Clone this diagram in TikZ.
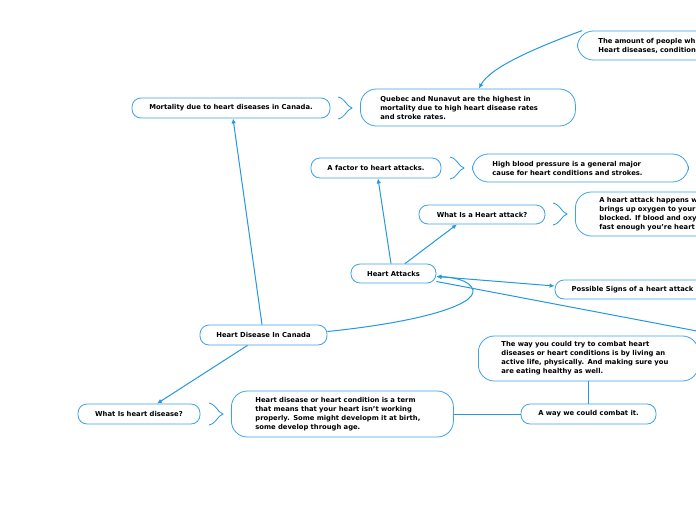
\documentclass[tikz,border=0pt]{standalone}
\usepackage{fontspec}
\setmainfont{DejaVu Sans}
\usetikzlibrary{arrows.meta,calc}
\definecolor{lineblue}{RGB}{36,152,226}
\definecolor{boxblue}{RGB}{62,162,230}
\tikzset{
  box/.style={draw=boxblue, line width=0.8pt, rounded corners=9pt, fill=white,
    font=\fontsize{6.8}{9}\selectfont\bfseries, inner sep=0pt, align=center},
  mbox/.style={box, rounded corners=16pt, align=left, anchor=west, inner ysep=0pt},
  conn/.style={draw=lineblue, line width=1pt},
  arr/.style={conn, -{Latex[length=5pt,width=4.5pt]}},
  darr/.style={conn, {Latex[length=5pt,width=4.5pt]}-{Latex[length=5pt,width=4.5pt]}},
  brk/.style={draw=lineblue, line width=0.8pt}
}
\newcommand{\mybrk}[2]{\draw[brk] (#1,#2-11) .. controls (#1+8,#2-9) and (#1+8,#2-2) .. (#1+14,#2) .. controls (#1+8,#2+2) and (#1+8,#2+9) .. (#1,#2+11);}
\begin{document}
\begin{tikzpicture}[x=1pt,y=-1pt]
\useasboundingbox[fill=white] (0,0) rectangle (696,520);

% top-right clipped box
\node[mbox, inner xsep=21pt, text width=180pt, minimum height=29pt] (amount) at (577,45.5)
  {The amount of people wh\\Heart diseases, condition};

\node[box, minimum width=198pt, minimum height=20pt] (mort) at (231,108) {Mortality due to heart diseases in Canada.};
\node[mbox, inner xsep=20pt, text width=175pt, minimum height=37pt] (quebec) at (360,107.5)
  {Quebec and Nunavut are the highest in\\mortality due to high heart disease rates\\and stroke rates.};

\node[box, minimum width=130pt, minimum height=20pt] (factor) at (376,168) {A factor to heart attacks.};
\node[mbox, inner xsep=20pt, text width=176pt, minimum height=28pt] (hbp) at (472,168)
  {High blood pressure is a general major\\cause for heart conditions and strokes.};

\node[box, minimum width=126pt, minimum height=19pt] (whatha) at (482,214.5) {What Is a Heart attack?};
\node[mbox, inner xsep=24pt, text width=170pt, minimum height=44pt] (hadef) at (575,214)
  {A heart attack happens w\\brings up oxygen to your\\blocked. If blood and oxy\\fast enough you're heart};

\node[box, minimum width=85pt, minimum height=19pt] (ha) at (393.5,273.5) {Heart Attacks};
\node[box, minimum width=155pt, minimum height=19pt] (signs) at (632.5,289.5) {Possible Signs of a heart attack};

\node[box, minimum width=127pt, minimum height=20pt] (hdc) at (263.5,335) {Heart Disease In Canada};

\node[mbox, inner xsep=23pt, text width=174pt, minimum height=45pt] (way) at (478,358.5)
  {The way you could try to combat heart\\diseases or heart conditions is by living an\\active life, physically. And making sure you\\are eating healthy as well.};
\node[box, minimum width=135pt, minimum height=20pt] (combat) at (588.5,414) {A way we could combat it.};

\node[box, minimum width=122pt, minimum height=20pt] (whathd) at (139,414) {What Is heart disease?};
\node[mbox, inner xsep=24pt, text width=174pt, minimum height=46pt] (hddef) at (231,414)
  {Heart disease or heart condition is a term\\that means that your heart isn't working\\properly. Some might developm it at birth,\\some develop through age.};

\coordinate (off) at (760,343);

% brackets
\mybrk{338}{108}
\mybrk{450}{168}
\mybrk{553}{214}
\mybrk{209}{414}

% connectors
\draw[arr] ([xshift=5pt]amount.north west) .. controls (530,50) and (490,68) .. ([xshift=11pt]quebec.north);
\draw[arr] ([xshift=-1.5pt]hdc.north) -- ([xshift=2pt]mort.south);
\draw[arr] ([xshift=-16pt]hdc.south) -- ([xshift=18pt]whathd.north);
\draw[arr] ([yshift=3.5pt]hdc.east) .. controls (420,322) and (476,305) .. (473,290) .. controls (470,280) and (452,277) .. ([yshift=-3pt]ha.east);
\draw[darr] ([yshift=-3pt]ha.east) -- ([yshift=3.5pt]signs.west);
\draw[conn] ([yshift=-8pt]ha.east) -- (off);
\draw[arr] ([xshift=-2.5pt]ha.north) -- ([xshift=2pt]factor.south);
\draw[arr] ([xshift=11.5pt]ha.north) -- ([xshift=-25pt]whatha.south);
\draw[conn] (combat.west) -- (hddef.east);
\draw[conn] (combat.north) -- (combat.north |- way.south);
\end{tikzpicture}
\end{document}
